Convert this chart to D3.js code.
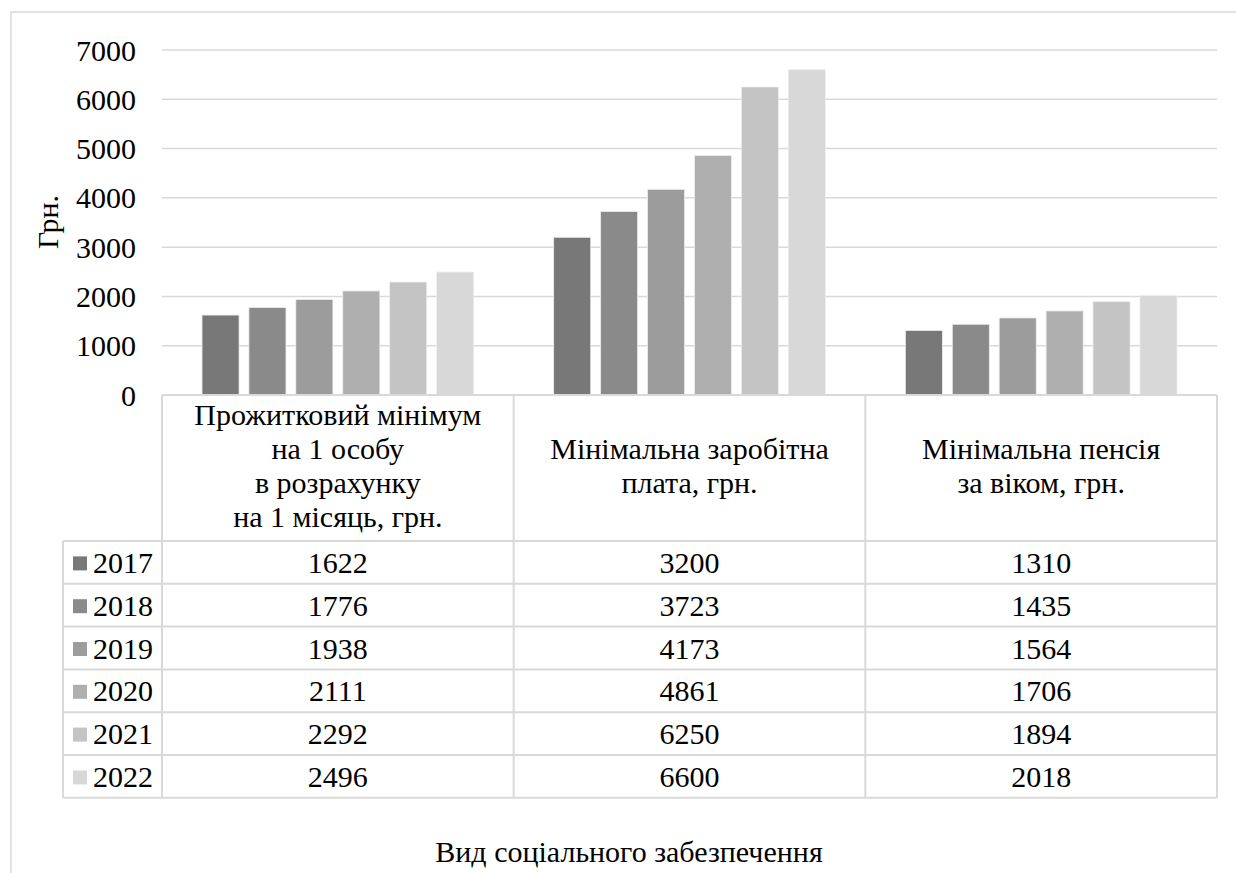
<!DOCTYPE html>
<html>
<head>
<meta charset="utf-8">
<script src="https://cdn.jsdelivr.net/npm/d3@7"></script>
</head>
<body style="margin:0; background:#fff">
<div id="chart"></div>
<script>
// data
const categories = [
  ["Прожитковий мінімум", "на 1 особу", "в розрахунку", "на 1 місяць, грн."],
  ["Мінімальна заробітна", "плата, грн."],
  ["Мінімальна пенсія", "за віком, грн."]
]
const years = ["2017", "2018", "2019", "2020", "2021", "2022"]
const values = [
  [1622, 3200, 1310],
  [1776, 3723, 1435],
  [1938, 4173, 1564],
  [2111, 4861, 1706],
  [2292, 6250, 1894],
  [2496, 6600, 2018]
]
const yTicks = [0, 1000, 2000, 3000, 4000, 5000, 6000, 7000]
const colors = ["#787878", "#8a8a8a", "#9c9c9c", "#afafaf", "#c4c4c4", "#d8d8d8"]

const width = 1236
const height = 873
const fs = 30
const grid = "#d9d9d9"

const svg = d3
  .select("#chart")
  .append("svg")
  .attr("width", width)
  .attr("height", height)

// small helper so every label gets the same font
function label(sel) {
  return sel.append("text")
    .attr("style", "font-family:'Liberation Serif';font-size:" + fs + "px;fill:#000")
}

// outer chart border
svg.append("rect")
  .attr("x", 11).attr("y", 12)
  .attr("width", 1300).attr("height", 1000)
  .attr("fill", "none")
  .attr("stroke", grid)
  .attr("stroke-width", 1.5)

const plotL = 162, plotR = 1217, plotT = 50, plotB = 395

const x0 = d3.scaleBand()
  .domain(d3.range(categories.length))
  .range([plotL, plotR])

const x1 = d3.scaleBand()
  .domain(years)
  .range([40, x0.bandwidth() - 40])
  .paddingInner(0.21)

const y = d3.scaleLinear().domain([0, 7000]).range([plotB, plotT])

// gridlines
svg.append("g")
  .selectAll("line")
  .data(yTicks.slice(1))
  .enter()
  .append("line")
  .attr("x1", plotL).attr("x2", plotR)
  .attr("y1", d => y(d)).attr("y2", d => y(d))
  .attr("stroke", grid)
  .attr("stroke-width", 1.5)

// y tick labels
yTicks.forEach(d => {
  label(svg)
    .attr("x", 136)
    .attr("y", y(d))
    .attr("dy", "0.35em")
    .attr("text-anchor", "end")
    .text(d)
})

// y title
label(svg)
  .attr("transform", "translate(47,222) rotate(-90)")
  .attr("text-anchor", "middle")
  .attr("dy", "0.35em")
  .text("Грн.")

// bars
const groups = svg.append("g")
  .selectAll("g")
  .data(categories)
  .enter()
  .append("g")
  .attr("transform", (d, i) => "translate(" + x0(i) + ",0)")

groups.selectAll("rect")
  .data((d, i) => years.map((yr, j) => ({ yr: yr, j: j, v: values[j][i] })))
  .enter()
  .append("rect")
  .attr("x", d => x1(d.yr))
  .attr("width", x1.bandwidth())
  .attr("y", d => y(d.v))
  .attr("height", d => y(0) - y(d.v))
  .attr("fill", d => colors[d.j])
  .attr("stroke", "#eeeeee")
  .attr("stroke-width", 0.8)

// data table
const tableL = 63, headerB = 541, rowH = 42.8
const rowY = d3.scaleBand().domain(years).range([headerB, headerB + rowH * years.length])
const tableB = headerB + rowH * years.length

const tbl = svg.append("g").attr("stroke", grid).attr("stroke-width", 2).attr("fill", "none")
// axis / header top
tbl.append("line").attr("x1", plotL).attr("x2", plotR).attr("y1", plotB).attr("y2", plotB)
// vertical lines for categories
tbl.selectAll(".v")
  .data(d3.range(categories.length + 1))
  .enter()
  .append("line")
  .attr("x1", i => plotL + i * x0.bandwidth())
  .attr("x2", i => plotL + i * x0.bandwidth())
  .attr("y1", plotB).attr("y2", tableB)
// left border of legend column
tbl.append("line").attr("x1", tableL).attr("x2", tableL).attr("y1", headerB).attr("y2", tableB)
// horizontal row lines
tbl.selectAll(".h")
  .data(years.map(d => rowY(d)).concat([tableB]))
  .enter()
  .append("line")
  .attr("x1", tableL).attr("x2", plotR)
  .attr("y1", d => d).attr("y2", d => d)

// header labels
categories.forEach((lines, i) => {
  const cx = x0(i) + x0.bandwidth() / 2
  const lh = 34
  const cy = 465
  const t = label(svg).attr("text-anchor", "middle")
  lines.forEach((ln, k) => {
    t.append("tspan")
      .attr("x", cx)
      .attr("y", cy + (k - (lines.length - 1) / 2) * lh)
      .attr("dy", "0.35em")
      .text(ln)
  })
})

// legend keys, years and values
years.forEach((yr, j) => {
  const cy = rowY(yr) + rowY.bandwidth() / 2
  svg.append("rect")
    .attr("x", 73).attr("y", cy - 6)
    .attr("width", 14).attr("height", 14)
    .attr("fill", colors[j])
  label(svg)
    .attr("x", 93).attr("y", cy)
    .attr("dy", "0.35em")
    .text(yr)
  values[j].forEach((v, i) => {
    label(svg)
      .attr("x", x0(i) + x0.bandwidth() / 2)
      .attr("y", cy)
      .attr("dy", "0.35em")
      .attr("text-anchor", "middle")
      .text(v)
  })
})

// x title
label(svg)
  .attr("x", 629).attr("y", 851)
  .attr("dy", "0.35em")
  .attr("text-anchor", "middle")
  .text("Вид соціального забезпечення")
</script>
</body>
</html>
